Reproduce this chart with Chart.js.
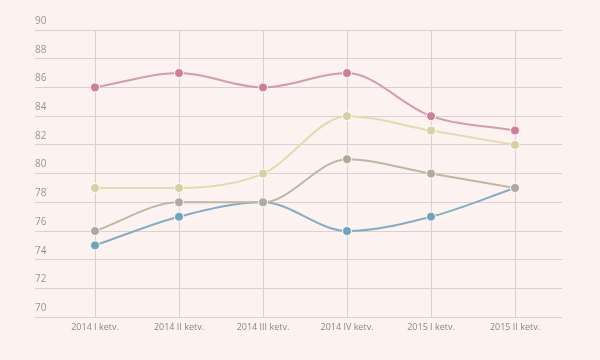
<!DOCTYPE html>
<html>
<head>
<meta charset="utf-8">
<script src="https://cdn.jsdelivr.net/npm/chart.js@4"></script>
<style>
  html, body { margin: 0; padding: 0; background: #fcf3f1; }
  #wrap { width: 600px; height: 360px; }
</style>
</head>
<body>
<div id="wrap"><canvas id="chart"></canvas></div>
<script>
// kategóriák és sorok
const quarters = ['2014 I ketv.', '2014 II ketv.', '2014 III ketv.', '2014 IV ketv.', '2015 I ketv.', '2015 II ketv.'];
const pinkSeries = [86, 87, 86, 87, 84, 83];
const beigeSeries = [79, 79, 80, 84, 83, 82];
const graySeries = [76, 78, 78, 81, 80, 79];
const blueSeries = [75, 77, 78, 76, 77, 79];
const yTicks = [70, 72, 74, 76, 78, 80, 82, 84, 86, 88, 90];

function makeSet(values, line, dot) {
  return {
    data: values.map((v, i) => ({ x: i, y: v })),
    borderColor: line,
    backgroundColor: dot,
    pointBackgroundColor: dot,
    pointBorderColor: '#fdf8f6',
    pointBorderWidth: 1,
    pointRadius: 4.5,
    borderWidth: 2,
    cubicInterpolationMode: 'monotone',
  };
}

new Chart(document.getElementById('chart'), {
  type: 'line',
  data: {
    datasets: [
      makeSet(pinkSeries, '#d69aae', '#cd7f9a'),
      makeSet(beigeSeries, '#e6d9ae', '#d9cfa2'),
      makeSet(graySeries, '#bdb8a2', '#aeaa9c'),
      makeSet(blueSeries, '#82aec3', '#6fa3bc'),
    ]
  },
  options: {
    responsive: true,
    maintainAspectRatio: false,
    animation: false,
    layout: { padding: { left: 35, right: 38, top: 30, bottom: 22 } },
    plugins: { legend: { display: false }, tooltip: { enabled: false } },
    scales: {
      x: {
        type: 'linear',
        min: -60 / 84,
        max: 5 + 47 / 84,
        afterBuildTicks: s => { s.ticks = quarters.map((_, i) => ({ value: i })); },
        ticks: {
          callback: v => quarters[v],
          color: '#8a8585',
          font: { family: 'Open Sans', size: 9 },
          padding: 5,
          maxRotation: 0,
          autoSkip: false,
        },
        grid: { color: '#dccfcf', drawTicks: false },
        border: { display: false },
      },
      y: {
        min: 70,
        max: 90,
        afterBuildTicks: s => { s.ticks = yTicks.map(v => ({ value: v })); },
        ticks: {
          mirror: true,
          padding: 0,
          labelOffset: -9,
          color: '#9a9494',
          font: { family: 'Open Sans', size: 10 },
        },
        grid: { color: '#dccfcf', drawTicks: false },
        border: { display: false },
      }
    }
  }
});
</script>
</body>
</html>
